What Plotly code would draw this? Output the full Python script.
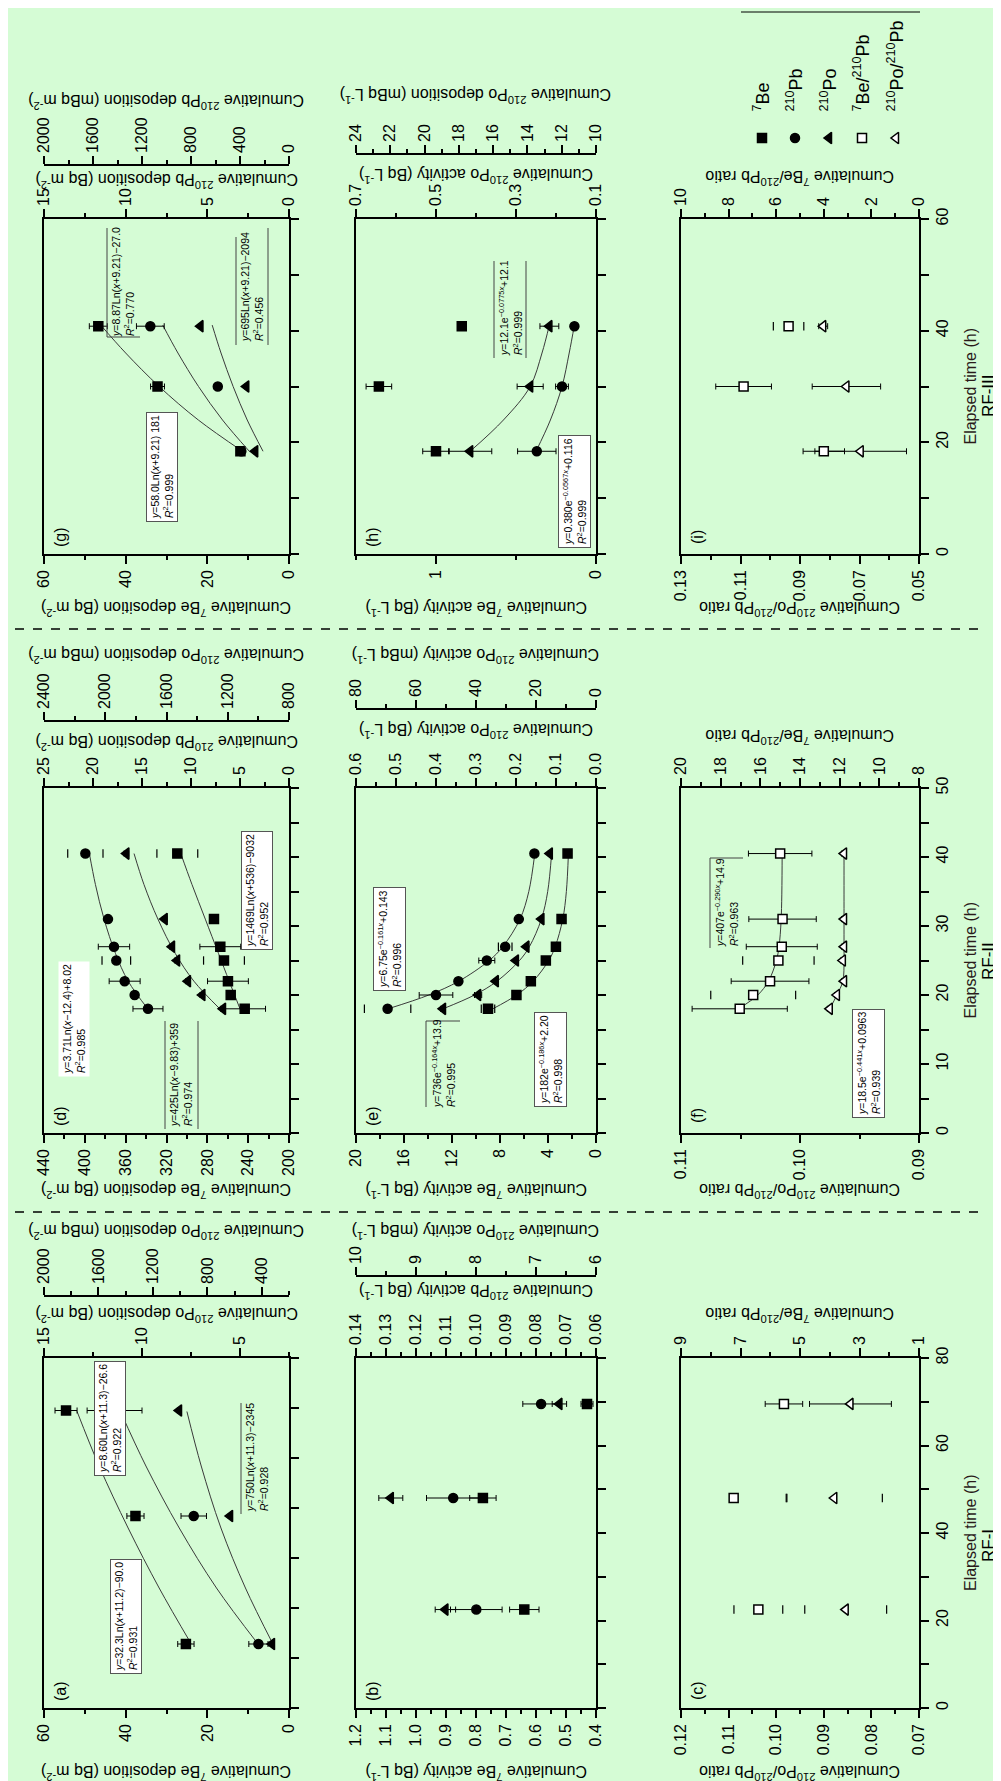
import plotly.graph_objects as go

W, H = 1001, 1781
BG = "#d5fcd5"
FONT = "Liberation Sans, Arial, sans-serif"

# ---------------- data ----------------
# RF-III (panels g, h, i)
t_rf3 = [18.4, 30.0, 40.8]
g_be7 = [11.9, 32.2, 46.7]
g_be7_err = [0.8, 1.7, 2.2]
g_pb210 = [2.92, 4.36, 8.49]
g_pb210_err = [0.15, 0.2, 0.85]
g_po210 = [276, 349, 723]
g_po210_err = [10, 10, 10]
fit_t_rf3 = [18.4, 24.0, 30.0, 36.0, 41.0]
g_fit_be7 = [11.4, 22.2, 31.8, 40.0, 46.1]
g_fit_pb210 = [2.43, 4.07, 5.54, 6.80, 7.73]
g_fit_po210 = [212, 341, 456, 555, 627]

h_be7 = [1.00, 1.357, 0.839]
h_be7_err = [0.083, 0.08, 0.01]
h_pb210 = [0.248, 0.185, 0.154]
h_pb210_err = [0.048, 0.016, 0.005]
h_po210 = [17.34, 13.84, 12.72]
h_po210_err = [1.26, 0.76, 0.55]
h_fit_pb210 = [0.250, 0.214, 0.185, 0.167, 0.154]
h_fit_po210 = [17.34, 15.4, 13.84, 13.15, 12.72]

i_be_pb = [4.0, 7.37, 5.48]
i_be_pb_err = [0.87, 1.17, 0.64]
i_po_pb = [0.0696, 0.0744, 0.0822]
i_po_pb_err = [0.0154, 0.0115, 0.0015]

# RF-II (panels d, e, f)
t_rf2 = [18.0, 20.0, 22.0, 25.0, 27.0, 31.0, 40.5]
d_be7 = [243.4, 257.1, 259.8, 263.7, 267.3, 273.5, 309.4]
d_be7_err = [20.4, 2.0, 20.0, 20.0, 20.0, 2.0, 20.0]
d_pb210 = [14.39, 15.75, 16.77, 17.62, 17.86, 18.47, 20.78]
d_pb210_err = [1.53, 0.2, 1.58, 1.46, 1.6, 0.2, 1.8]
d_po210 = [1231, 1366, 1460, 1531, 1564, 1612, 1862]
d_po210_err = [15, 15, 15, 15, 15, 15, 15]
fit_t_rf2d = [18.0, 22.0, 26.0, 31.0, 36.0, 40.5]
d_fit_be7 = [248, 258.6, 269, 282, 295, 306]
d_fit_pb210 = [14.41, 16.41, 17.70, 18.87, 19.75, 20.37]
d_fit_po210 = [1252, 1421, 1542, 1656, 1747, 1812]

e_be7 = [9.0, 6.63, 5.43, 4.18, 3.34, 2.87, 2.37]
e_be7_err = [0.56, 0.1, 0.1, 0.1, 0.1, 0.1, 0.1]
e_pb210 = [0.521, 0.400, 0.344, 0.273, 0.227, 0.193, 0.154]
e_pb210_err = [0.058, 0.042, 0.004, 0.02, 0.017, 0.006, 0.003]
e_po210 = [51.0, 39.3, 33.4, 26.7, 23.2, 18.2, 15.4]
e_po210_err = [0.8, 1.2, 0.5, 0.5, 0.5, 0.5, 0.5]
fit_t_rf2e = [18.0, 20.0, 22.0, 25.0, 27.0, 31.0, 35.0, 40.5]
e_fit_be7 = [8.6, 6.61, 5.24, 3.94, 3.40, 2.77, 2.47, 2.30]
e_fit_pb210 = [0.52, 0.418, 0.343, 0.267, 0.233, 0.190, 0.168, 0.153]
e_fit_po210 = [51.0, 40.5, 33.0, 25.5, 22.2, 18.2, 16.1, 14.8]

f_be_pb = [17.04, 16.36, 15.51, 15.09, 14.92, 14.88, 15.0]
f_be_pb_err = [2.4, 2.14, 1.96, 1.8, 1.79, 1.7, 1.6]
f_po_pb = [0.0975, 0.0969, 0.0963, 0.0964, 0.0963, 0.0963, 0.0963]
f_po_pb_err = [0.0002, 0.0002, 0.0002, 0.0002, 0.0002, 0.0002, 0.0002]
f_fit_be_pb = [17.1, 16.13, 15.59, 15.19, 15.06, 14.95, 14.9]
f_fit_po_pb = [0.0975, 0.0969, 0.0964, 0.0963, 0.0963, 0.0963, 0.0963]

# RF-I (panel a is drawn on its own 0-70 h axis; b, c on 0-80 h)
t_rf1_a = [12.8, 38.4, 59.5]
a_be7 = [25.25, 37.6, 54.6]
a_be7_err = [2.0, 2.1, 2.7]
a_pb210 = [4.06, 7.36, 11.4]
a_pb210_err = [0.49, 0.65, 1.4]
a_po210 = [325, 633, 1008]
a_po210_err = [12, 12, 12]
fit_t_rf1_a = [12.9, 24.0, 36.0, 48.4, 59.3]
a_fit_be7 = [24.0, 31.8, 39.4, 46.5, 51.9]
a_fit_pb210 = [4.1, 6.2, 8.1, 9.8, 11.1]
a_fit_po210 = [320, 520, 700, 845, 950]

t_rf1 = [22.5, 48.0, 69.5]
b_be7 = [0.639, 0.777, 0.430]
b_be7_err = [0.049, 0.044, 0.02]
b_pb210 = [0.0999, 0.1076, 0.0783]
b_pb210_err = [0.0086, 0.0089, 0.0061]
b_po210 = [8.51, 9.42, 6.61]
b_po210_err = [0.17, 0.2, 0.12]

c_be_pb = [6.40, 7.23, 5.54]
c_be_pb_err = [0.82, 1.79, 0.63]
c_po_pb = [0.0854, 0.0878, 0.0844]
c_po_pb_err = [0.0086, 0.0101, 0.0086]

legend_names = ["<sup>7</sup>Be", "<sup>210</sup>Pb", "<sup>210</sup>Po",
                "<sup>7</sup>Be/<sup>210</sup>Pb", "<sup>210</sup>Po/<sup>210</sup>Pb"]

# ---------------- text ----------------
BE7_DEP = "Cumulative <sup>7</sup>Be deposition (Bq m<sup>-2</sup>)"
BE7_ACT = "Cumulative <sup>7</sup>Be activity (Bq L<sup>-1</sup>)"
R_POPB = "Cumulative <sup>210</sup>Po/<sup>210</sup>Pb ratio"
R_BEPB = "Cumulative <sup>7</sup>Be/<sup>210</sup>Pb ratio"

# ---------------- layout geometry (pixels) ----------------
COLS = {"L": (36, 281), "M": (348, 588), "R": (673, 911)}
ROWS = {"III": (211, 546), "II": (780, 1125), "I": (1350, 1700)}
TIME = {"III": (60, 20, 10), "II": (50, 10, 5), "I": (80, 20, 10)}
BOTTOM_TITLE_Y = {"III": 601, "II": 1183, "I": 1765}

FILLED = dict(b=("square", "black"), c=("circle", "black"), t=("triangle-left", "black"),
              os=("square", "white"), ot=("triangle-left", "white"))


def S(ax, t, v, e, sym, caps=()):
    return dict(ax=ax, t=t, v=v, e=e, sym=sym, caps=list(caps))


# box styles: "wb" white + border, "w" white no border, "n" transparent
panels = [
    dict(key="g", col="L", row="III",
         axes=dict(b=dict(range=[60, 0], dtick=20, minor=10, title=BE7_DEP),
                   i=dict(range=[15, 0], dtick=5, minor=2.5, title="Cumulative <sup>210</sup>Pb deposition (Bq m<sup>-2</sup>)", ty=173),
                   o=dict(range=[2000, 0], dtick=400, minor=200, title="Cumulative <sup>210</sup>Pb deposition (mBq m<sup>-2</sup>)", ty=94, pos=157)),
         series=[S("b", t_rf3, g_be7, g_be7_err, "b"), S("i", t_rf3, g_pb210, g_pb210_err, "c"),
                 S("o", t_rf3, g_po210, g_po210_err, "t")],
         fits=[("b", fit_t_rf3, g_fit_be7), ("i", fit_t_rf3, g_fit_pb210), ("o", fit_t_rf3, g_fit_po210)],
         boxes=[("<i>y</i>=58.0Ln(<i>x</i>+9.21) 181<br><i>R</i><sup>2</sup>=0.999", 154, 459, "wb"),
                ("<i>y</i>=8.87Ln(<i>x</i>+9.21)−27.0<br><i>R</i><sup>2</sup>=0.770", 115, 274, "n"),
                ("<i>y</i>=695Ln(<i>x</i>+9.21)−2094<br><i>R</i><sup>2</sup>=0.456", 244, 279, "n")]),
    dict(key="h", col="M", row="III",
         axes=dict(b=dict(range=[1.5, 0], tickvals=[0, 1], minor=0.5, title=BE7_ACT),
                   i=dict(range=[0.7, 0.1], dtick=0.2, tick0=0.1, minor=0.1, fmt=".1f", title="Cumulative <sup>210</sup>Po activity (Bq L<sup>-1</sup>)", ty=168),
                   o=dict(range=[24, 10], dtick=2, minor=1, title="Cumulative <sup>210</sup>Po deposition (mBq L<sup>-1</sup>)", ty=88, pos=146)),
         series=[S("b", t_rf3, h_be7, h_be7_err, "b"), S("i", t_rf3, h_pb210, h_pb210_err, "c"),
                 S("o", t_rf3, h_po210, h_po210_err, "t")],
         fits=[("i", fit_t_rf3, h_fit_pb210), ("o", fit_t_rf3, h_fit_po210)],
         boxes=[("<i>y</i>=12.1e<sup>−0.0775<i>x</i></sup>+12.1<br><i>R</i><sup>2</sup>=0.999", 502, 300, "n"),
                ("<i>y</i>=0.380e<sup>−0.0567<i>x</i></sup>+0.116<br><i>R</i><sup>2</sup>=0.999", 567, 484, "wb")]),
    dict(key="i", col="R", row="III",
         axes=dict(b=dict(range=[0.13, 0.05], dtick=0.02, tick0=0.05, minor=0.01, fmt=".2f", title=R_POPB),
                   i=dict(range=[10, 0], dtick=2, minor=1, title=R_BEPB, ty=170)),
         series=[S("i", t_rf3, i_be_pb, i_be_pb_err, "os", caps=[2]),
                 S("b", t_rf3, i_po_pb, i_po_pb_err, "ot")],
         fits=[], boxes=[]),
    dict(key="d", col="L", row="II",
         axes=dict(b=dict(range=[440, 200], dtick=40, minor=20, title=BE7_DEP),
                   i=dict(range=[25, 0], dtick=5, minor=2.5, title="Cumulative <sup>210</sup>Pb deposition (Bq m<sup>-2</sup>)", ty=735),
                   o=dict(range=[2400, 800], dtick=400, minor=200, title="Cumulative <sup>210</sup>Po deposition (mBq m<sup>-2</sup>)", ty=648, pos=713)),
         series=[S("b", t_rf2, d_be7, d_be7_err, "b", caps=[3, 6]),
                 S("i", t_rf2, d_pb210, d_pb210_err, "c", caps=[3, 6]),
                 S("o", t_rf2, d_po210, d_po210_err, "t")],
         fits=[("b", fit_t_rf2d, d_fit_be7), ("i", fit_t_rf2d, d_fit_pb210), ("o", fit_t_rf2d, d_fit_po210)],
         boxes=[("<i>y</i>=3.71Ln(<i>x</i>−12.4)+8.02<br><i>R</i><sup>2</sup>=0.985", 66, 1011, "w"),
                ("<i>y</i>=425Ln(<i>x</i>−9.83)+359<br><i>R</i><sup>2</sup>=0.974", 173, 1067, "n"),
                ("<i>y</i>=1469Ln(<i>x</i>+536)−9032<br><i>R</i><sup>2</sup>=0.952", 249, 883, "wb")]),
    dict(key="e", col="M", row="II",
         axes=dict(b=dict(range=[20, 0], dtick=4, minor=2, title=BE7_ACT),
                   i=dict(range=[0.6, 0.0], dtick=0.1, minor=0.05, fmt=".1f", title="Cumulative <sup>210</sup>Po activity (Bq L<sup>-1</sup>)", ty=723),
                   o=dict(range=[80, 0], dtick=20, minor=10, title="Cumulative <sup>210</sup>Po activity (mBq L<sup>-1</sup>)", ty=648, pos=701)),
         series=[S("b", t_rf2, e_be7, e_be7_err, "b", caps=[0]),
                 S("i", t_rf2, e_pb210, e_pb210_err, "c", caps=[0, 4]),
                 S("o", t_rf2, e_po210, e_po210_err, "t")],
         fits=[("b", fit_t_rf2e, e_fit_be7), ("i", fit_t_rf2e, e_fit_pb210), ("o", fit_t_rf2e, e_fit_po210)],
         boxes=[("<i>y</i>=6.75e<sup>−0.161<i>x</i></sup>+0.143<br><i>R</i><sup>2</sup>=0.996", 381, 931, "wb"),
                ("<i>y</i>=736e<sup>−0.164<i>x</i></sup>+13.9<br><i>R</i><sup>2</sup>=0.995", 435, 1056, "n"),
                ("<i>y</i>=182e<sup>−0.186<i>x</i></sup>+2.20<br><i>R</i><sup>2</sup>=0.998", 542, 1052, "wb")]),
    dict(key="f", col="R", row="II",
         axes=dict(b=dict(range=[0.11, 0.09], dtick=0.01, minor=0.005, fmt=".2f", title=R_POPB),
                   i=dict(range=[20, 8], dtick=2, minor=1, title=R_BEPB, ty=729)),
         series=[S("i", t_rf2, f_be_pb, f_be_pb_err, "os", caps=[1, 3]),
                 S("b", t_rf2, f_po_pb, f_po_pb_err, "ot")],
         fits=[("i", t_rf2, f_fit_be_pb), ("b", t_rf2, f_fit_po_pb)],
         boxes=[("<i>y</i>=407e<sup>−0.290<i>x</i></sup>+14.9<br><i>R</i><sup>2</sup>=0.963", 718, 895, "n"),
                ("<i>y</i>=18.5e<sup>−0.441<i>x</i></sup>+0.0963<br><i>R</i><sup>2</sup>=0.939", 860, 1056, "wb")]),
    dict(key="a", col="L", row="I", time=(70, 10, 10),
         axes=dict(b=dict(range=[60, 0], dtick=20, minor=10, title=BE7_DEP),
                   i=dict(range=[15, 2.5], dtick=5, minor=2.5, title="Cumulative <sup>210</sup>Po deposition (Bq m<sup>-2</sup>)", ty=1307),
                   o=dict(range=[2000, 200], dtick=400, minor=200, title="Cumulative <sup>210</sup>Po deposition (mBq m<sup>-2</sup>)", ty=1224, pos=1288)),
         series=[S("b", t_rf1_a, a_be7, a_be7_err, "b"), S("i", t_rf1_a, a_pb210, a_pb210_err, "c"),
                 S("o", t_rf1_a, a_po210, a_po210_err, "t")],
         fits=[("b", fit_t_rf1_a, a_fit_be7), ("i", fit_t_rf1_a, a_fit_pb210), ("o", fit_t_rf1_a, a_fit_po210)],
         boxes=[("<i>y</i>=32.3Ln(<i>x</i>+11.2)−90.0<br><i>R</i><sup>2</sup>=0.931", 118, 1609, "wb"),
                ("<i>y</i>=8.60Ln(<i>x</i>+11.3)−26.6<br><i>R</i><sup>2</sup>=0.922", 102, 1411, "wb"),
                ("<i>y</i>=750Ln(<i>x</i>+11.3)−2345<br><i>R</i><sup>2</sup>=0.928", 249, 1450, "n")]),
    dict(key="b", col="M", row="I",
         axes=dict(b=dict(range=[1.2, 0.4], dtick=0.1, minor=0.05, fmt=".1f", title=BE7_ACT),
                   i=dict(range=[0.14, 0.06], dtick=0.01, minor=0.005, fmt=".2f", title="Cumulative <sup>210</sup>Pb activity (Bq L<sup>-1</sup>)", ty=1284),
                   o=dict(range=[10, 6], dtick=1, minor=0.5, title="Cumulative <sup>210</sup>Po activity (mBq L<sup>-1</sup>)", ty=1224, pos=1268)),
         series=[S("b", t_rf1, b_be7, b_be7_err, "b"), S("i", t_rf1, b_pb210, b_pb210_err, "c"),
                 S("o", t_rf1, b_po210, b_po210_err, "t")],
         fits=[], boxes=[]),
    dict(key="c", col="R", row="I",
         axes=dict(b=dict(range=[0.12, 0.07], dtick=0.01, minor=0.005, fmt=".2f", title=R_POPB),
                   i=dict(range=[9, 1], dtick=2, tick0=1, minor=1, title=R_BEPB, ty=1307)),
         series=[S("i", t_rf1, c_be_pb, c_be_pb_err, "os", caps=[0, 1]),
                 S("b", t_rf1, c_po_pb, c_po_pb_err, "ot", caps=[0, 1])],
         fits=[], boxes=[]),
]

# thin partial frame lines drawn next to some unfilled equation labels (x0, y0, x1, y1 in px)
BOX_EDGES = [(99, 220, 99, 329), (99, 329, 132, 329),
             (228, 229, 228, 337), (260, 220, 260, 337),
             (486, 253, 486, 350), (518, 253, 518, 350),
             (157, 1013, 157, 1121), (190, 1013, 190, 1121),
             (418, 1013, 418, 1099), (418, 1013, 452, 1013),
             (702, 850, 702, 940), (702, 850, 735, 850),
             (233, 1395, 233, 1506)]


def fx(px):
    return px / W


def fy(py):
    return 1 - py / H


def lay_key(p, n):
    return f"{p}axis" if n == 1 else f"{p}axis{n}"


def ref(p, n):
    return p if n == 1 else f"{p}{n}"


TICKFONT = dict(family=FONT, size=16, color="black")


def base_axis(spec):
    d = dict(range=spec["range"], showline=True, linecolor="black", linewidth=1.6,
             ticks="outside", ticklen=8, tickwidth=1.5, tickcolor="black",
             showgrid=False, zeroline=False, tickangle=-90, tickfont=TICKFONT,
             fixedrange=True, automargin=False,
             minor=dict(dtick=spec["minor"], ticklen=4, tickwidth=1.5, tickcolor="black",
                        ticks="outside", showgrid=False))
    if "tickvals" in spec:
        d.update(tickmode="array", tickvals=spec["tickvals"])
    else:
        d.update(tickmode="linear", dtick=spec["dtick"], tick0=spec.get("tick0", 0))
    if "fmt" in spec:
        d["tickformat"] = spec["fmt"]
    return d


layout = dict(width=W, height=H, paper_bgcolor=BG, plot_bgcolor="rgba(0,0,0,0)",
              margin=dict(l=0, r=0, t=0, b=0), showlegend=False,
              font=dict(family=FONT, color="black", size=16))
traces = []
annotations = []
shapes = []
xi = 0
yi = 0

for p in panels:
    c0, c1 = COLS[p["col"]]
    r0, r1 = ROWS[p["row"]]
    xdom = [fx(c0), fx(c1)]
    ydom = [fy(r1), fy(r0)]
    yi += 1
    yid = yi
    ids = {}
    for k in ["b", "i", "o"]:
        if k in p["axes"]:
            xi += 1
            ids[k] = xi
    xb = ids["b"]
    T, dt, mn = p.get("time", TIME[p["row"]])
    layout[lay_key("y", yid)] = dict(
        domain=ydom, anchor=ref("x", xb), side="right", range=[0, T],
        tickmode="linear", dtick=dt, tick0=0, showline=True, mirror=True,
        linecolor="black", linewidth=1.6, ticks="outside", ticklen=8, tickwidth=1.5,
        tickcolor="black", showgrid=False, zeroline=False, tickangle=-90,
        tickfont=TICKFONT, showticklabels=(p["col"] == "R"), fixedrange=True,
        automargin=False,
        minor=dict(dtick=mn, ticklen=8, tickwidth=1.5, tickcolor="black", ticks="outside",
                   showgrid=False))
    for k, n in ids.items():
        spec = p["axes"][k]
        d = base_axis(spec)
        d["domain"] = xdom
        if k == "b":
            d.update(side="bottom", anchor=ref("y", yid), mirror=True)
        elif k == "i":
            d.update(side="top", anchor=ref("y", yid), overlaying=ref("x", xb))
        else:
            d.update(side="top", anchor="free", position=fy(spec["pos"]), overlaying=ref("x", xb))
        layout[lay_key("x", n)] = d
        ty = BOTTOM_TITLE_Y[p["row"]] if k == "b" else spec["ty"]
        annotations.append(dict(text=spec["title"], xref="paper", yref="paper",
                                x=fx((c0 + c1) / 2), y=fy(ty), showarrow=False,
                                textangle=180, xanchor="center", yanchor="middle",
                                font=dict(family=FONT, size=16, color="black")))
    # fit curves
    for k, tt, vv in p["fits"]:
        traces.append(go.Scatter(x=vv, y=tt, mode="lines", xaxis=ref("x", ids[k]),
                                 yaxis=ref("y", yid), hoverinfo="skip",
                                 line=dict(color="#3a3a3a", width=1, shape="spline")))
    # data series
    for s_ in p["series"]:
        s, col = FILLED[s_["sym"]]
        xa, ya = ref("x", ids[s_["ax"]]), ref("y", yid)
        err_line = [0 if j in s_["caps"] else e for j, e in enumerate(s_["e"])]
        # error bars whose line is not drawn in the figure: only the two caps show
        if s_["caps"]:
            cx, cy = [], []
            for j in s_["caps"]:
                cx += [s_["v"][j] - s_["e"][j], s_["v"][j] + s_["e"][j]]
                cy += [s_["t"][j], s_["t"][j]]
            traces.append(go.Scatter(x=cx, y=cy, mode="markers", xaxis=xa, yaxis=ya,
                                     hoverinfo="skip", cliponaxis=False,
                                     marker=dict(symbol="line-ns", size=6,
                                                 line=dict(color="black", width=1.2))))
        traces.append(go.Scatter(
            x=s_["v"], y=s_["t"], mode="markers", xaxis=xa, yaxis=ya, cliponaxis=False,
            marker=dict(symbol=s, size=9 if s != "triangle-left" else 10, color=col,
                        line=dict(color="black", width=1.5)),
            error_x=dict(type="data", array=err_line, visible=True, thickness=1, width=3,
                         color="black")))
    # fit equation boxes
    for text, bx, by, style in p["boxes"]:
        annotations.append(dict(text=text, xref="paper", yref="paper", x=fx(bx), y=fy(by),
                                showarrow=False, textangle=-90, align="left",
                                xanchor="center", yanchor="middle",
                                bgcolor="white" if style != "n" else "rgba(0,0,0,0)",
                                bordercolor="#555" if style == "wb" else "rgba(0,0,0,0)",
                                borderwidth=1, borderpad=2,
                                font=dict(family=FONT, size=10.5, color="black")))
    # panel letter
    annotations.append(dict(text=f"({p['key']})", xref="paper", yref="paper",
                            x=fx(c0 + 16), y=fy(r1 - 17), showarrow=False, textangle=-90,
                            xanchor="center", yanchor="middle",
                            font=dict(family=FONT, size=16, color="black")))

for x0, y0, x1, y1 in BOX_EDGES:
    shapes.append(dict(type="line", xref="paper", yref="paper", x0=fx(x0), x1=fx(x1),
                       y0=fy(y0), y1=fy(y1), line=dict(color="#444", width=1)))

# elapsed time titles and RF labels
for row, rf, ry in [("III", "RF-III", 388), ("II", "RF-II", 953), ("I", "RF-I", 1538)]:
    r0, r1 = ROWS[row]
    annotations.append(dict(text="Elapsed time (h)", xref="paper", yref="paper",
                            x=fx(962), y=fy((r0 + r1) / 2), showarrow=False, textangle=-90,
                            xanchor="center", yanchor="middle",
                            font=dict(family=FONT, size=16, color="#2a1a1a")))
    annotations.append(dict(text=rf, xref="paper", yref="paper", x=fx(980), y=fy(ry),
                            showarrow=False, textangle=-90, xanchor="center", yanchor="middle",
                            font=dict(family=FONT, size=17, color="black")))

# legend (symbols on a full-page overlay axis, labels as rotated text)
xi += 1
yi += 1
layout[lay_key("x", xi)] = dict(domain=[0, 1], range=[0, W], visible=False, fixedrange=True,
                                anchor=ref("y", yi))
layout[lay_key("y", yi)] = dict(domain=[0, 1], range=[H, 0], visible=False, fixedrange=True,
                                anchor=ref("x", xi))
leg_x = [754, 787, 821, 854, 888]
leg_sym = ["b", "c", "t", "os", "ot"]
for lx, sk, nm in zip(leg_x, leg_sym, legend_names):
    s, col = FILLED[sk]
    traces.append(go.Scatter(x=[lx], y=[130], mode="markers", xaxis=ref("x", xi),
                             yaxis=ref("y", yi), cliponaxis=False, hoverinfo="skip",
                             marker=dict(symbol=s, size=9 if s != "triangle-left" else 10,
                                         color=col, line=dict(color="black", width=1.5))))
    annotations.append(dict(text=nm, xref="paper", yref="paper", x=fx(lx), y=fy(106),
                            showarrow=False, textangle=-90, xanchor="center", yanchor="bottom",
                            font=dict(family=FONT, size=18, color="black")))
shapes.append(dict(type="line", xref="paper", yref="paper", x0=fx(733), x1=fx(912),
                   y0=fy(4), y1=fy(4), line=dict(color="black", width=1)))

# dashed separators between the three sampling events
for yy in [621, 1204]:
    shapes.append(dict(type="line", xref="paper", yref="paper", x0=fx(7), x1=fx(970),
                       y0=fy(yy), y1=fy(yy), line=dict(color="black", width=1.5, dash="dash")))

layout["annotations"] = annotations
layout["shapes"] = shapes

fig = go.Figure(data=traces, layout=layout)
fig.write_html("out.html")
